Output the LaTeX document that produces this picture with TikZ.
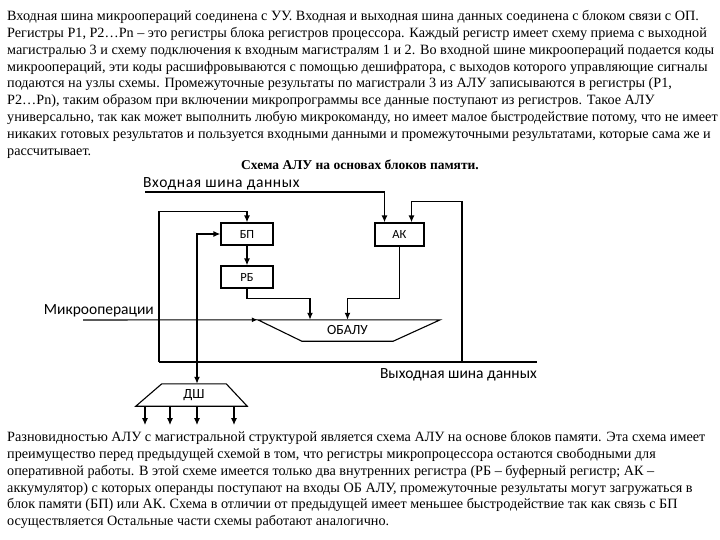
\documentclass[tikz,border=0pt]{standalone}
\usepackage{fontspec}
\setmainfont{Liberation Serif}
\newfontfamily\diagfont{Carlito}
\usetikzlibrary{arrows.meta,calc,positioning,shapes.geometric}
\tikzset{
  blk/.style={draw,line width=1.2pt,minimum width=52pt,minimum height=22pt,inner sep=0pt,
    font=\diagfont\fontsize{12.5}{12.5}\selectfont},
  traplbl/.style={inner sep=0pt,font=\diagfont\fontsize{14}{14}\selectfont},
  trapline/.style={line width=1.1pt,line join=miter},
  arr/.style={-{Latex[length=7pt,width=6pt]},line width=1.6pt},
  arrs/.style={{Latex[length=7pt,width=6pt]}-{Latex[length=7pt,width=6pt]},line width=1.6pt},
  arrthin/.style={-{Latex[length=6pt,width=5pt]},line width=1.1pt},
  bus/.style={line width=1.3pt},
  lbl/.style={font=\diagfont\fontsize{15.5}{15.5}\selectfont,inner sep=0pt},
  para/.style={font=\fontsize{14.2}{16.9}\selectfont,align=left,inner sep=0pt,anchor=north west}
}

\begin{document}
\begin{tikzpicture}[x=1pt,y=-1pt]
\useasboundingbox[fill=white] (0,0) rectangle (720,540);
% text
\node[para] (txttop) at (7,10) {Входная шина микроопераций соединена с УУ. Входная и выходная шина данных соединена с блоком связи с ОП.\\
Регистры Р1, Р2…Рn – это регистры блока регистров процессора. Каждый регистр имеет схему приема с выходной\\
магистралью 3 и схему подключения к входным магистралям 1 и 2. Во входной шине микроопераций подается коды\\
микроопераций, эти коды расшифровываются с помощью дешифратора, с выходов которого управляющие сигналы\\
подаются на узлы схемы. Промежуточные результаты по магистрали 3 из АЛУ записываются в регистры (Р1,\\
Р2…Рn), таким образом при включении микропрограммы все данные поступают из регистров. Такое АЛУ\\
универсально, так как может выполнить любую микрокоманду, но имеет малое быстродействие потому, что не имеет\\
никаких готовых результатов и пользуется входными данными и промежуточными результатами, которые сама же и\\
рассчитывает.};
\node[font=\bfseries\fontsize{13.5}{13.5}\selectfont,inner sep=0pt] (title) at (360,165) {Схема АЛУ на основах блоков памяти.};
\node[para] (txtbot) at (7,431) {Разновидностью АЛУ с магистральной структурой является схема АЛУ на основе блоков памяти. Эта схема имеет\\
преимущество перед предыдущей схемой в том, что регистры микропроцессора остаются свободными для\\
оперативной работы. В этой схеме имеется только два внутренних регистра (РБ – буферный регистр; АК –\\
аккумулятор) с которых операнды поступают на входы ОБ АЛУ, промежуточные результаты могут загружаться в\\
блок памяти (БП) или АК. Схема в отличии от предыдущей имеет меньшее быстродействие так как связь с БП\\
осуществляется Остальные части схемы работают аналогично.};
% blocks
\node[blk] (bp) at (247,234) {БП};
\node[blk] (rb) at (247,277) {РБ};
\node[blk,minimum width=49pt,minimum height=23pt] (ak) at (399.5,234.5) {АК};
\node[traplbl,minimum width=91pt,minimum height=21pt] (alu) at (347.5,330.5) {ОБАЛУ};
\draw[trapline] ([xshift=-44pt]alu.north west) coordinate (alutl) -- ([xshift=47pt]alu.north east)
  -- (alu.south east) -- (alu.south west) -- cycle;
\node[traplbl,minimum width=64pt,minimum height=22pt] (dsh) at (194,395) {ДШ};
\draw[trapline] (dsh.north west) -- (dsh.north east) -- ([xshift=21pt]dsh.south east)
  -- ([xshift=-26pt]dsh.south west) -- cycle;
% buses
\coordinate (inbus) at (145,192);
\coordinate (obL) at (159,362);
\coordinate (obR) at (537,362);
\coordinate (fb) at (462,362);
\coordinate (mo) at (83,320);
\node[lbl,anchor=base west] (inlbl) at (143,188) {\addfontfeature{LetterSpace=4}Входная шина данных};
\node[lbl,anchor=base east] (outlbl) at (537,378) {Выходная шина данных};
\node[lbl,anchor=base east] (molbl) at (154,314) {Микрооперации};
\draw[bus] (obL) -- (obR);
% connectors
\draw[arr] (inbus) -| ([xshift=-15pt]ak.north);
\draw[arr] (fb) |- ([xshift=12pt,yshift=21pt]ak.north) -- ([xshift=12pt]ak.north);
\draw[arr] (ak.south) -- ++(0,52) -| (alu.north);
\draw[arr] (bp) -- (rb);
\draw[arr] (rb.south) -- ++(0,10) -| ([xshift=-37.5pt]alu.north);
\draw[arr] (obL) |- ([yshift=11pt]bp.north) -- (bp.north);
\draw[arrs] (bp.west) -| ([xshift=3pt]dsh.north);
\draw[arrthin] (mo) -- (alutl);
\foreach \dx in {-49,-24,3,40} {
  \draw[arr] ([xshift=\dx pt]dsh.south) -- ++(0,19);
}
\end{tikzpicture}
\end{document}
